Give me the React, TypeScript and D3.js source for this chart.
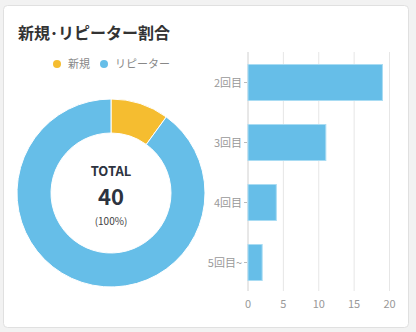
import React from "react";
import * as d3 from "d3";

const shareLabels = ["新規", "リピーター"];
const shareValues = [4, 36];
const shareColors = ["#f5bd30", "#66bee8"];

const barCategories = ["2回目", "3回目", "4回目", "5回目~"];
const barValues = [19, 11, 4, 2];
const xTicks = [0, 5, 10, 15, 20];

const FONT = "'Noto Sans CJK JP', 'Noto Sans', sans-serif";

export default function App() {
  const W = 416, H = 332;
  const cx = 111, cy = 193, rOuter = 94, rInner = 60;
  const total = d3.sum(shareValues);
  const pie = d3.pie<number>().sort(null).value((d) => d)(shareValues);
  const arc = d3.arc<d3.PieArcDatum<number>>().innerRadius(rInner).outerRadius(rOuter);

  const x = d3.scaleLinear().domain([0, 20]).range([248, 389.5]);
  const y = d3.scaleBand<string>().domain(barCategories).range([52.5, 292.5]).paddingInner(0.4).paddingOuter(0.2);

  return (
    <svg width={W} height={H} style={{ position: "absolute", left: 0, top: 0, fontFamily: FONT }}>
      <rect x={0} y={0} width={W} height={H} fill="#f2f2f2" />
      <rect x={3.5} y={5.5} width={405} height={322} rx={4} fill="#fff" stroke="#e0e0e0" />
      <text x={18} y={39} fontSize={16} fontWeight="bold" fill="#333">新規･リピーター割合</text>

      {/* legend */}
      {shareLabels.map((l, i) => {
        const lx = i === 0 ? 57 : 104;
        return (
          <g key={l}>
            <circle cx={lx} cy={64} r={4} fill={shareColors[i]} />
            <text x={lx + 11} y={68} fontSize={11} fill="#888">{l}</text>
          </g>
        );
      })}

      {/* donut */}
      <g transform={`translate(${cx},${cy})`}>
        {pie.map((p, i) => (
          <path key={i} d={arc(p) || ""} fill={shareColors[i]} stroke="#fff" strokeWidth={1} />
        ))}
        <text x={0} y={-17} textAnchor="middle" fontSize={13} fontWeight="bold" fill="#2d3340">TOTAL</text>
        <text x={0} y={12} textAnchor="middle" fontSize={22} fontWeight="bold" fill="#2d3340">{total}</text>
        <text x={0} y={32} textAnchor="middle" fontSize={10} fill="#444">(100%)</text>
      </g>

      {/* bar grid */}
      {xTicks.map((t) => (
        <g key={t}>
          <line x1={x(t)} x2={x(t)} y1={52} y2={291} stroke={t === 0 ? "#d0d0d0" : "#e6e6e6"} strokeWidth={1} />
          <text x={x(t)} y={308} textAnchor="middle" fontSize={11} fill="#999">{t}</text>
        </g>
      ))}
      {barCategories.map((c, i) => {
        const yy = y(c)!;
        const bh = y.bandwidth();
        return (
          <g key={c}>
            <rect x={x(0)} y={yy} width={x(barValues[i]) - x(0)} height={bh} fill="#66bee8" stroke="#a9dcf3" strokeWidth={1} />
            <line x1={x(0) - 4} x2={x(0) - 1} y1={yy + bh / 2} y2={yy + bh / 2} stroke="#bbb" />
            <text x={x(0) - 6} y={yy + bh / 2 + 4} textAnchor="end" fontSize={11} fill="#999">{c}</text>
          </g>
        );
      })}
    </svg>
  );
}
